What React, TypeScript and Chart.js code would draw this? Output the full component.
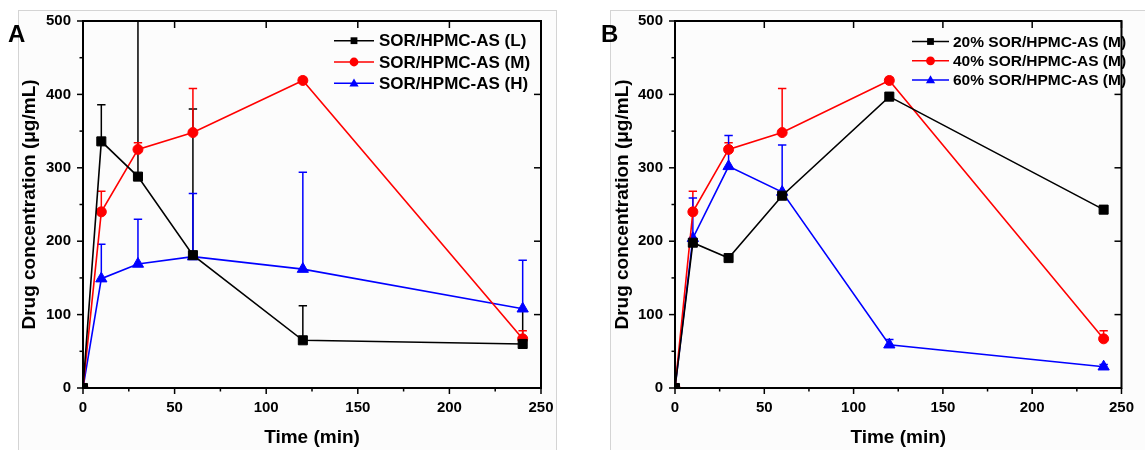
import React, { useEffect, useRef } from 'react';
import { Chart, registerables } from 'chart.js';

Chart.register(...registerables);

const FONT = '"Liberation Sans", Arial, Helvetica, sans-serif';

// ---------- data ----------
const timePoints = [0, 10, 30, 60, 120, 240];
const xTicks = [0, 50, 100, 150, 200, 250];
const yTicks = [0, 100, 200, 300, 400, 500];

// Panel A
const aLabels = ['SOR/HPMC-AS (L)', 'SOR/HPMC-AS (M)', 'SOR/HPMC-AS (H)'];
const aLow = [0, 336, 288, 181, 65, 60];
const aLowSD = [0, 50, 272, 199, 47, 45];
const aMid = [0, 240, 325, 348, 419, 67];
const aMidSD = [0, 28, 9, 60, 4, 11];
const aHigh = [0, 149, 169, 179, 162, 108];
const aHighSD = [0, 47, 61, 86, 132, 66];

// Panel B
const bLabels = ['20% SOR/HPMC-AS (M)', '40% SOR/HPMC-AS (M)', '60% SOR/HPMC-AS (M)'];
const b20 = [0, 198, 177, 262, 397, 243];
const b20SD = [0, 0, 0, 0, 0, 0];
const b40 = [0, 240, 325, 348, 419, 67];
const b40SD = [0, 28, 9, 60, 4, 11];
const b60 = [0, 204, 302, 267, 59, 29];
const b60SD = [0, 55, 42, 64, 7, 3];

const xTitle = 'Time (min)';
const yTitle = 'Drug concentration (μg/mL)';

// ---------- styles ----------
const seriesStyle = [
  { color: '#000000', marker: 'rect', radius: 6.4, legendR: 3.4 },
  { color: '#ff0000', marker: 'circle', radius: 5, legendR: 4.4 },
  { color: '#0000ff', marker: 'triangle', radius: 6.5, legendR: 4.6 },
];

const panelA = {
  letter: 'A', letterX: 8, letterY: 42,
  yAxisWidth: 83, padRight: 39, yTitlePad: 20.5,
  legend: { x: 334, y: 40.7, row: 21.3, line: 40, gap: 5, font: 17 },
  labels: aLabels,
  values: [aLow, aMid, aHigh],
  errors: [aLowSD, aMidSD, aHighSD],
};

const panelB = {
  letter: 'B', letterX: 21, letterY: 42,
  yAxisWidth: 95, padRight: 13, yTitlePad: 33.5,
  legend: { x: 332, y: 41.5, row: 19.3, line: 37, gap: 4, font: 15.5 },
  labels: bLabels,
  values: [b20, b40, b60],
  errors: [b20SD, b40SD, b60SD],
};

function drawMarker(ctx: CanvasRenderingContext2D, style: string, x: number, y: number, r: number, color: string) {
  ctx.fillStyle = color;
  ctx.beginPath();
  if (style === 'rect') ctx.rect(x - r, y - r, 2 * r, 2 * r);
  else if (style === 'circle') ctx.arc(x, y, r, 0, Math.PI * 2);
  else {
    ctx.moveTo(x, y - r * 1.05);
    ctx.lineTo(x + r * 1.0, y + r * 0.7);
    ctx.lineTo(x - r * 1.0, y + r * 0.7);
    ctx.closePath();
  }
  ctx.fill();
}

function makeConfig(spec: any) {
  const decor = {
    id: 'decor' + spec.letter,
    beforeDatasetsDraw(chart: any) {
      const { ctx, chartArea } = chart;
      const xS = chart.scales.x, yS = chart.scales.y;
      ctx.save();
      ctx.beginPath();
      ctx.rect(chartArea.left, chartArea.top, chartArea.right - chartArea.left, chartArea.bottom - chartArea.top);
      ctx.clip();
      chart.data.datasets.forEach((ds: any) => {
        ctx.strokeStyle = ds.borderColor;
        ctx.lineWidth = 1.5;
        ds.data.forEach((p: any, i: number) => {
          const e = ds.errors[i];
          if (!e) return;
          const px = xS.getPixelForValue(p.x);
          const py = yS.getPixelForValue(p.y);
          const pt = yS.getPixelForValue(p.y + e);
          ctx.beginPath();
          ctx.moveTo(px, py);
          ctx.lineTo(px, pt);
          ctx.moveTo(px - 4.2, pt);
          ctx.lineTo(px + 4.2, pt);
          ctx.stroke();
        });
      });
      ctx.restore();
    },
    afterDatasetsDraw(chart: any) {
      const { ctx, chartArea } = chart;
      const { left, right, top, bottom } = chartArea;
      const xS = chart.scales.x, yS = chart.scales.y;
      ctx.save();
      ctx.strokeStyle = '#000';
      ctx.lineWidth = 1.5;
      const seg = (x1: number, y1: number, x2: number, y2: number) => {
        ctx.beginPath(); ctx.moveTo(x1, y1); ctx.lineTo(x2, y2); ctx.stroke();
      };
      // x ticks (bottom outward major+minor, top inward major)
      xTicks.forEach((v, i) => {
        const px = xS.getPixelForValue(v);
        seg(px, bottom, px, bottom + 6);
        seg(px, top, px, top + 7);
        if (i < xTicks.length - 1) {
          const m = xS.getPixelForValue((v + xTicks[i + 1]) / 2);
          seg(m, bottom, m, bottom + 3.5);
        }
      });
      yTicks.forEach((v, i) => {
        const py = yS.getPixelForValue(v);
        seg(left, py, left - 6, py);
        seg(right, py, right - 7, py);
        if (i < yTicks.length - 1) {
          const m = yS.getPixelForValue((v + yTicks[i + 1]) / 2);
          seg(left, m, left - 3.5, m);
        }
      });
      ctx.lineWidth = 2;
      ctx.strokeRect(left, top, right - left, bottom - top);

      // legend
      const lg = spec.legend;
      ctx.font = `bold ${lg.font}px ${FONT}`;
      ctx.textBaseline = 'middle';
      ctx.textAlign = 'left';
      chart.data.datasets.forEach((ds: any, i: number) => {
        const st = seriesStyle[i];
        const y = lg.y + i * lg.row;
        ctx.strokeStyle = st.color;
        ctx.lineWidth = 1.5;
        seg(lg.x, y, lg.x + lg.line, y);
        drawMarker(ctx, st.marker, lg.x + lg.line / 2, y, st.legendR, st.color);
        ctx.fillStyle = '#000';
        ctx.fillText(ds.label, lg.x + lg.line + lg.gap, y + 1);
      });

      // panel letter
      ctx.font = `bold 24px ${FONT}`;
      ctx.textBaseline = 'alphabetic';
      ctx.fillStyle = '#000';
      ctx.fillText(spec.letter, spec.letterX, spec.letterY);
      ctx.restore();
    },
  };

  return {
    type: 'line',
    data: {
      datasets: spec.values.map((vals: number[], i: number) => ({
        label: spec.labels[i],
        data: timePoints.map((t, j) => ({ x: t, y: vals[j] })),
        errors: spec.errors[i],
        borderColor: seriesStyle[i].color,
        backgroundColor: seriesStyle[i].color,
        pointBackgroundColor: seriesStyle[i].color,
        pointBorderColor: seriesStyle[i].color,
        borderWidth: 1.6,
        pointStyle: seriesStyle[i].marker,
        pointRadius: seriesStyle[i].radius,
        pointBorderWidth: 1,
        tension: 0,
        fill: false,
        clip: 0,
      })),
    },
    options: {
      responsive: false,
      animation: false,
      events: [],
      layout: { padding: { left: 0, top: 20.7, right: spec.padRight, bottom: 0 } },
      plugins: { legend: { display: false }, tooltip: { enabled: false } },
      scales: {
        x: {
          type: 'linear',
          position: 'bottom',
          min: 0,
          max: 250,
          afterBuildTicks: (s: any) => { s.ticks = xTicks.map((v) => ({ value: v })); },
          afterFit: (s: any) => { s.height = 62; },
          grid: { display: false, drawTicks: false },
          border: { display: false },
          ticks: {
            autoSkip: false, maxRotation: 0, padding: 11, color: '#000',
            font: { family: FONT, size: 15, weight: 'bold' },
          },
          title: {
            display: true, text: xTitle, color: '#000',
            font: { family: FONT, size: 19, weight: 'bold', lineHeight: 1 },
            padding: { top: 0, bottom: 2.5 },
          },
        },
        y: {
          type: 'linear',
          position: 'left',
          min: 0,
          max: 500,
          afterBuildTicks: (s: any) => { s.ticks = yTicks.map((v) => ({ value: v })); },
          afterFit: (s: any) => { s.width = spec.yAxisWidth; },
          grid: { display: false, drawTicks: false },
          border: { display: false },
          ticks: {
            padding: 12, color: '#000',
            font: { family: FONT, size: 15, weight: 'bold' },
          },
          title: {
            display: true, text: yTitle, color: '#000',
            font: { family: FONT, size: 19, weight: 'bold', lineHeight: 1 },
            padding: { top: spec.yTitlePad, bottom: 0 },
          },
        },
      },
    },
    plugins: [decor],
  };
}

function Panel({ spec, left, width }: { spec: any; left: number; width: number }) {
  const ref = useRef<HTMLCanvasElement>(null);
  useEffect(() => {
    const chart = new Chart(ref.current as HTMLCanvasElement, makeConfig(spec) as any);
    return () => chart.destroy();
  }, []);
  return (
    <canvas
      ref={ref}
      width={width}
      height={450}
      style={{ position: 'absolute', left, top: 0, width, height: 450 }}
    />
  );
}

export default function App() {
  useEffect(() => {
    document.body.style.margin = '0';
  }, []);
  return (
    <div style={{ position: 'absolute', left: 0, top: 0, width: 1145, height: 450, overflow: 'hidden', background: '#ffffff' }}>
      <div style={{ position: 'absolute', left: 18, top: 10, width: 537, height: 460, border: '1px solid #d4d4d4', background: '#fcfcfc' }} />
      <div style={{ position: 'absolute', left: 610, top: 10, width: 560, height: 460, border: '1px solid #d4d4d4', background: '#fcfcfc' }} />
      <Panel spec={panelA} left={0} width={580} />
      <Panel spec={panelB} left={580} width={565} />
    </div>
  );
}
